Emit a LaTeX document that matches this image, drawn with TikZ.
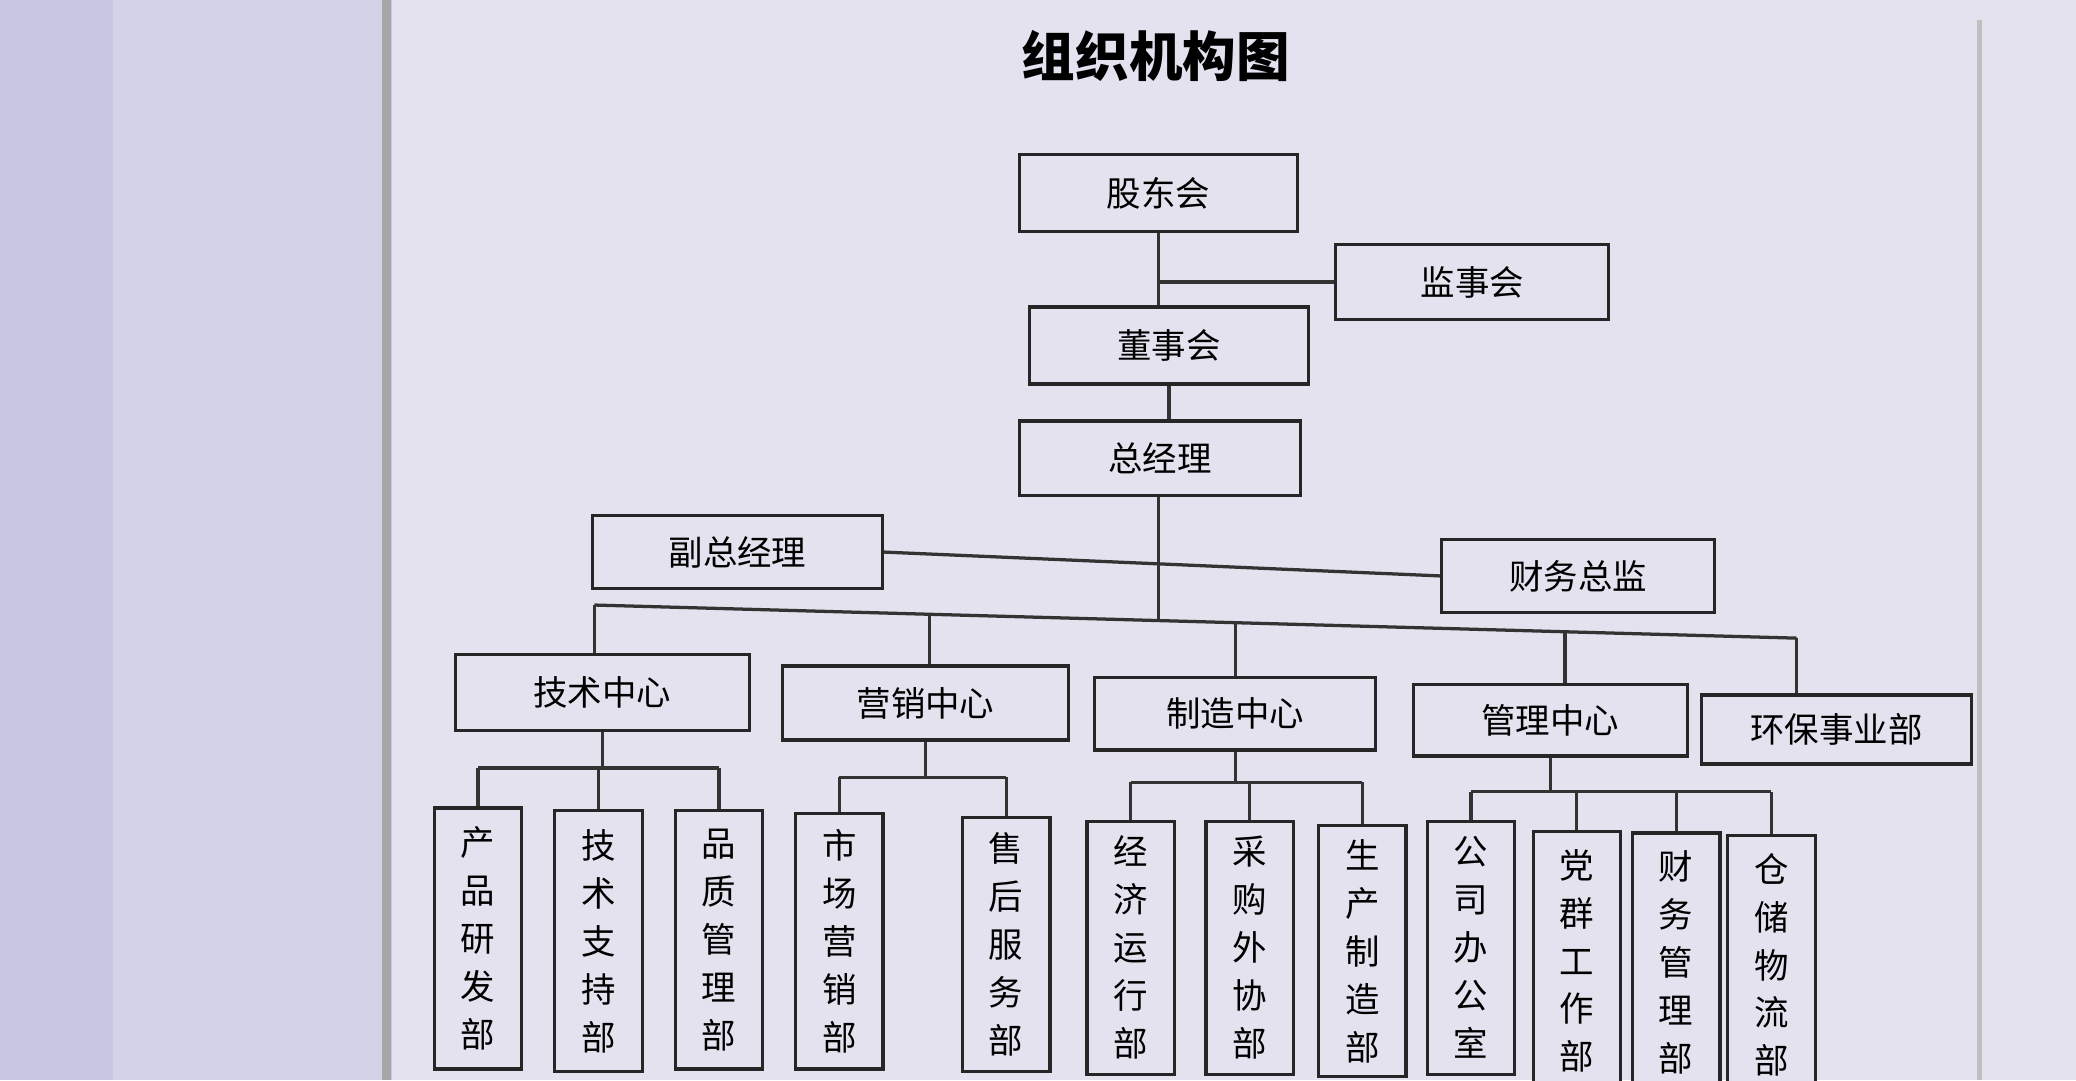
\documentclass[tikz,border=0pt]{standalone}
\usepackage{fontspec}
\setmainfont{Noto Sans CJK SC}
\usetikzlibrary{calc}
\begin{document}
\begin{tikzpicture}[x=0.01cm,y=-0.01cm,
  box/.style={draw=black!85,line width=0.7pt,fill=paper,font=\fontsize{7.4pt}{9pt}\selectfont,inner sep=0pt},
  leaf/.style={box,minimum width=0.66cm,align=center,anchor=north,font=\fontsize{7.4pt}{10.3pt}\selectfont},
  ln/.style={draw=black!80,line width=0.7pt}]
\definecolor{paper}{RGB}{228,226,238}
\definecolor{side}{RGB}{212,210,230}
\definecolor{strip}{RGB}{200,198,224}
\useasboundingbox (0,0) rectangle (1568,816);
\clip (0,0) rectangle (1568,816);
\fill[strip] (0,0) rectangle (1568,816);
\fill[side] (85,0) rectangle (290,816);
\fill[paper] (296,0) rectangle (1568,816);
\draw[black!35,line width=2pt] (292,0) -- (292,816);
\draw[black!25,line width=1pt] (1495,15) -- (1495,816);
\node[font=\fontsize{11.5pt}{13pt}\selectfont\bfseries] (title) at (873,42) {组织机构图};
\node[box,minimum width=2.10cm,minimum height=0.58cm] (gd) at (875,146) {股东会};
\node[box,minimum width=2.06cm,minimum height=0.57cm] (jsh) at (1112,213) {监事会};
\node[box,minimum width=2.11cm,minimum height=0.58cm] (dsh) at (883,261) {董事会};
\node[box,minimum width=2.12cm,minimum height=0.56cm] (zjl) at (876,346) {总经理};
\node[box,minimum width=2.19cm,minimum height=0.55cm] (fz) at (557,417) {副总经理};
\node[box,minimum width=2.06cm,minimum height=0.55cm] (cw) at (1192,435) {财务总监};
\node[box,minimum width=2.22cm,minimum height=0.57cm] (js) at (455,523) {技术中心};
\node[box,minimum width=2.16cm,minimum height=0.56cm] (yx) at (699,531) {营销中心};
\node[box,minimum width=2.12cm,minimum height=0.55cm] (zz) at (933,539) {制造中心};
\node[box,minimum width=2.07cm,minimum height=0.54cm] (gl) at (1171,544) {管理中心};
\node[box,minimum width=2.04cm,minimum height=0.52cm] (hb) at (1387,551) {环保事业部};
% leaves
\node[leaf,minimum height=1.97cm] (l1) at (361,609) {产\\品\\研\\发\\部};
\node[leaf,minimum height=1.97cm] (l2) at (452,611) {技\\术\\支\\持\\部};
\node[leaf,minimum height=1.95cm] (l3) at (543,611) {品\\质\\管\\理\\部};
\node[leaf,minimum height=1.93cm] (l4) at (634,613) {市\\场\\营\\销\\部};
\node[leaf,minimum height=1.92cm] (l5) at (760,616) {售\\后\\服\\务\\部};
\node[leaf,minimum height=1.91cm] (l6) at (854,619) {经\\济\\运\\行\\部};
\node[leaf,minimum height=1.91cm] (l7) at (944,619) {采\\购\\外\\协\\部};
\node[leaf,minimum height=1.90cm] (l8) at (1029,622) {生\\产\\制\\造\\部};
\node[leaf,minimum height=1.91cm] (l9) at (1111,619) {公\\司\\办\\公\\室};
\node[leaf,minimum height=1.95cm] (l10) at (1191,627) {党\\群\\工\\作\\部};
\node[leaf,minimum height=1.95cm] (l11) at (1266,628) {财\\务\\管\\理\\部};
\node[leaf,minimum height=1.95cm] (l12) at (1338,630) {仓\\储\\物\\流\\部};
% connectors
\draw[ln] (gd.south) -- (gd.south |- dsh.north);
\draw[ln] (gd.south |- jsh.west) -- (jsh.west);
\draw[ln] (dsh.south) -- (dsh.south |- zjl.north);
\coordinate (busL) at (449,457);
\coordinate (busR) at (1357,482);
\draw[ln] (busL) -- (busR);
\coordinate (bm) at ($(busL)!0.4692!(busR)$);
\draw[ln] (bm |- zjl.south) -- (bm);
\draw[ln] (fz.east) -- (cw.west);
\foreach \c/\t in {js/0,yx/0.2786,zz/0.5330,gl/0.8073,hb/1}{
  \coordinate (d) at ($(busL)!\t!(busR)$);
  \draw[ln] (d) -- (d |- \c.north);
}
\foreach \p/\y/\kids in {js/580/{l1,l2,l3},yx/587/{l4,l5},zz/591/{l6,l7,l8},gl/598/{l9,l10,l11,l12}}{
  \draw[ln] (\p.south) -- (\p.south |- 0,\y);
  \foreach \k in \kids \draw[ln] (\k.north |- 0,\y) -- (\k.north);
}
\draw[ln] (l1.north |- 0,580) -- (l3.north |- 0,580);
\draw[ln] (l4.north |- 0,587) -- (l5.north |- 0,587);
\draw[ln] (l6.north |- 0,591) -- (l8.north |- 0,591);
\draw[ln] (l9.north |- 0,598) -- (l12.north |- 0,598);
\end{tikzpicture}
\end{document}
